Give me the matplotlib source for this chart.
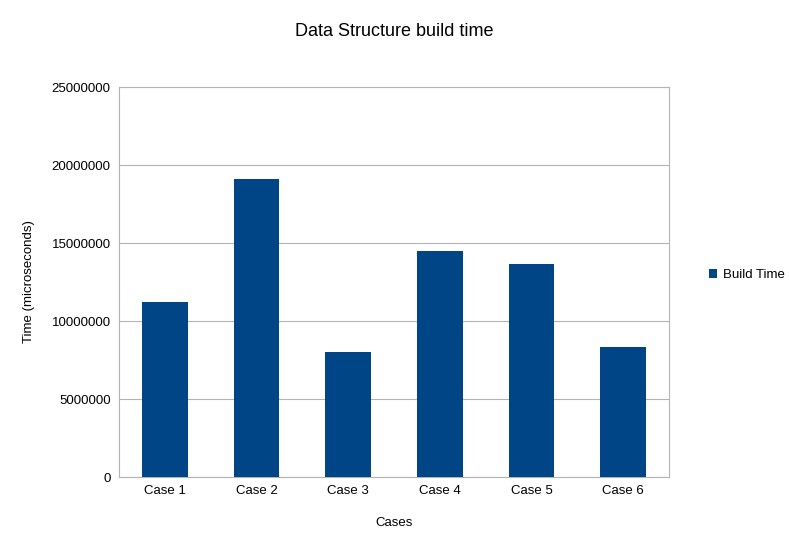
import matplotlib
matplotlib.use("Agg")
import matplotlib.pyplot as plt
from matplotlib.ticker import FuncFormatter

categories = ["Case 1", "Case 2", "Case 3", "Case 4", "Case 5", "Case 6"]
build_time = [11220000, 19130000, 8010000, 14490000, 13650000, 8330000]

plt.rcParams['font.family'] = ['Liberation Sans', 'DejaVu Sans']
fig = plt.figure(figsize=(7.89, 5.5), dpi=100)
ax = fig.add_axes([119/789, 1-477/550, 550/789, 390/550])
x = range(len(categories))
ax.bar(x, build_time, width=0.5, color="#004586", label="Build Time", zorder=3)
ax.set_xlim(-0.5, len(categories)-0.5)
ax.set_ylim(0, 25000000)
ax.set_yticks(range(0, 25000001, 5000000))
ax.yaxis.set_major_formatter(FuncFormatter(lambda v, p: f"{int(v)}"))
ax.set_xticks(list(x))
ax.set_xticklabels(categories)
ax.grid(axis='y', color="#b3b3b3", linewidth=0.8, zorder=0)
for s in ax.spines.values():
    s.set_color("#b3b3b3")
ax.tick_params(axis='both', labelsize=9.5, color="#b3b3b3", length=0, pad=6)
ax.set_xlabel("Cases", fontsize=9.5, labelpad=14)
ax.set_ylabel("Time (microseconds)", fontsize=9.5, labelpad=12)
fig.text(394/789, 1-31/550, "Data Structure build time", ha='center', va='center', fontsize=13)
fig.legend(loc='center left', bbox_to_anchor=(697/789, 1-275/550), frameon=False,
           fontsize=9.5, handlelength=0.6, handleheight=0.6, handletextpad=0.5)
fig.savefig("out.png", dpi=100)
